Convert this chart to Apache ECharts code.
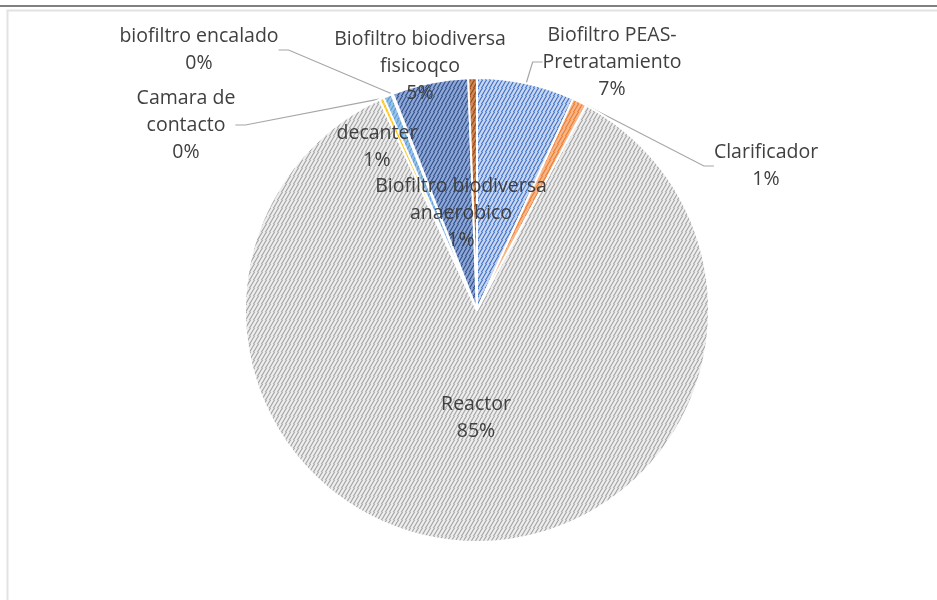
<!DOCTYPE html>
<html>
<head>
<meta charset="utf-8">
<title>Distribución por unidad</title>
<script src="https://cdn.jsdelivr.net/npm/echarts@6/dist/echarts.min.js"></script>
<style>
  html, body { margin: 0; padding: 0; background: #ffffff; }
  #chart { width: 937px; height: 600px; }
</style>
</head>
<body>
<div id="chart"></div>
<script>
// Units of the treatment plant, clockwise from 12 o'clock
const categories = [
  'Biofiltro PEAS-\nPretratamiento',
  'Clarificador',
  'Reactor',
  'Camara de\ncontacto',
  'decanter',
  'biofiltro encalado',
  'Biofiltro biodiversa\nfisicoqco',
  'Biofiltro biodiversa\nanaerobico'
];
// Share of each unit (%)
const shares = [6.8, 1.0, 85.3, 0.3, 0.6, 0.1, 5.3, 0.6];

// Fill styles: [background, stroke] for the wave pattern
const fills = [
  ['#c9d7f1', '#4472c4'],
  ['#f6b88c', '#ed7d31'],
  ['#eeeeee', '#a5a5a5'],
  ['#ffd24d', '#ffc000'],
  ['#9cc3e8', '#5b9bd5'],
  ['#a9cf8f', '#70ad47'],
  ['#90a8d6', '#2f4f8a'],
  ['#cf8a5a', '#9e480e']
];

// Label anchor (centre of the text block) for each unit
const labelAt = [
  [612, 62], [766, 166], [476, 418], [186, 125],
  [377, 147], [199, 50], [420, 66], [461, 213]
];
const withLine = [true, true, false, true, false, true, false, false];

function wavePattern(bg, fg) {
  const c = document.createElement('canvas');
  c.width = 8; c.height = 8;
  const g = c.getContext('2d');
  g.fillStyle = bg;
  g.fillRect(0, 0, 8, 8);
  g.strokeStyle = fg;
  g.lineWidth = 1.1;
  for (let o = -8; o <= 16; o += 4) {
    g.beginPath();
    g.moveTo(o - 4, 10);
    g.quadraticCurveTo(o - 1, 6, o, 4);
    g.quadraticCurveTo(o + 1, 2, o + 4, -2);
    g.stroke();
  }
  return c;
}

const total = shares.reduce((a, b) => a + b, 0);

const data = categories.map((name, i) => ({
  name: name,
  value: shares[i],
  itemStyle: {
    color: { image: wavePattern(fills[i][0], fills[i][1]), repeat: 'repeat' }
  },
  labelLine: { show: withLine[i] }
}));

const chart = echarts.init(document.getElementById('chart'), null, { renderer: 'canvas' });

chart.setOption({
  backgroundColor: '#ffffff',
  animation: false,
  graphic: [
    { type: 'rect', silent: true, shape: { x: 0, y: 5, width: 937, height: 2 }, style: { fill: '#808080' } },
    { type: 'polyline', silent: true, shape: { points: [[7.5, 600], [7.5, 10.5], [937, 10.5]] },
      style: { stroke: '#e2e2e2', lineWidth: 2, fill: null } }
  ],
  series: [{
    type: 'pie',
    center: [477, 310],
    radius: [0, 232],
    startAngle: 90,
    clockwise: true,
    avoidLabelOverlap: false,
    itemStyle: { borderColor: '#ffffff', borderWidth: 2 },
    label: {
      show: true,
      position: 'outside',
      fontFamily: '"Open Sans", sans-serif',
      fontSize: 19.5,
      lineHeight: 27,
      color: '#404040',
      align: 'center',
      formatter: p => p.name + '\n' + Math.round(p.value / total * 100) + '%'
    },
    labelLine: {
      show: true,
      length: 10,
      length2: 10,
      lineStyle: { color: '#a6a6a6', width: 1.2 }
    },
    labelLayout: p => ({
      x: labelAt[p.dataIndex][0],
      y: labelAt[p.dataIndex][1],
      align: 'center',
      verticalAlign: 'middle'
    }),
    data: data
  }]
});
</script>
</body>
</html>
